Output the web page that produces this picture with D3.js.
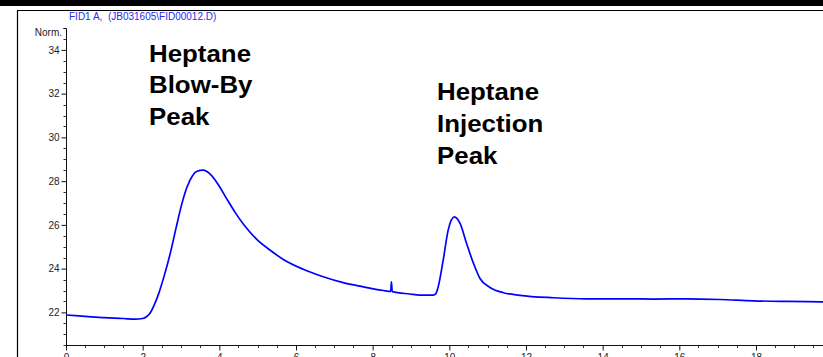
<!DOCTYPE html>
<html>
<head>
<meta charset="utf-8">
<script src="https://cdn.jsdelivr.net/npm/d3@7"></script>
<style>
html,body{margin:0;padding:0;background:#fff;overflow:hidden;}
svg{display:block;font-family:"Liberation Sans",Arial,sans-serif;}
</style>
</head>
<body>
<svg id="chart" width="823" height="357"></svg>
<script>
// Retention time (min)
const times = [0, 0.5, 1.0, 1.5, 1.8, 2.0, 2.1, 2.2, 2.3, 2.42, 2.55, 2.72, 2.87, 3.02, 3.15, 3.3, 3.42, 3.58, 3.76, 3.97, 4.19, 4.42, 4.65, 4.97, 5.32, 5.67, 6.19, 6.71, 7.23, 7.76, 8.28, 8.47, 8.49, 8.51, 8.97, 9.23, 9.58, 9.65, 9.71, 9.84, 9.97, 10.13, 10.28, 10.45, 10.63, 10.8, 11.06, 11.41, 11.84, 12.71, 13.58, 14.45, 15.32, 16.19, 17.06, 17.93, 18.8, 19.67, 20.2];
// FID signal (Norm.)
const signal = [21.88, 21.82, 21.76, 21.72, 21.69, 21.72, 21.8, 21.98, 22.33, 22.87, 23.6, 24.7, 25.85, 26.95, 27.7, 28.25, 28.45, 28.5, 28.32, 27.85, 27.2, 26.55, 25.98, 25.35, 24.85, 24.42, 23.97, 23.63, 23.36, 23.17, 23.0, 22.96, 23.4, 22.95, 22.84, 22.79, 22.79, 22.86, 23.17, 24.39, 25.76, 26.37, 26.07, 25.15, 24.24, 23.55, 23.14, 22.9, 22.78, 22.67, 22.62, 22.62, 22.61, 22.62, 22.59, 22.53, 22.5, 22.48, 22.46];
const xTicks = [0, 2, 4, 6, 8, 10, 12, 14, 16, 18, 20];
const yTicks = [22, 24, 26, 28, 30, 32, 34];
const titleText = "FID1 A,  (JB031605\\FID00012.D)";
const yUnit = "Norm.";
const note1 = ["Heptane", "Blow-By", "Peak"];
const note2 = ["Heptane", "Injection", "Peak"];

const svg = d3.select("#chart");
const x = d3.scaleLinear().domain([0, 20]).range([66, 66 + 20 * 38.333]);
const y = d3.scaleLinear().domain([20.5, 35]).range([345.2, 28.0]);

// top black band and frame
svg.append("rect").attr("x", 0).attr("y", 0).attr("width", 823).attr("height", 6).attr("fill", "#000");
svg.append("line").attr("x1", 17).attr("x2", 823).attr("y1", 10.5).attr("y2", 10.5).attr("stroke", "#000").attr("stroke-width", 1.2);
svg.append("line").attr("x1", 17.5).attr("x2", 17.5).attr("y1", 10).attr("y2", 357).attr("stroke", "#000").attr("stroke-width", 1.2);

// title
svg.append("text").attr("x", 69).attr("y", 19.5).attr("font-size", 10).attr("fill", "#2a2aee")
  .style("white-space", "pre").attr("xml:space", "preserve").text(titleText);

// minor ticks
const yMinor = d3.range(20.5, 35.01, 0.5).filter(v => !yTicks.includes(v));
svg.append("g").selectAll("line").data(yMinor).join("line")
  .attr("x1", 63.5).attr("x2", 66).attr("y1", d => Math.round(y(d)) + 0.5).attr("y2", d => Math.round(y(d)) + 0.5)
  .attr("stroke", "#333").attr("stroke-width", 1);
const xMinor = d3.range(0, 20.01, 0.5).filter(v => !xTicks.includes(v));
svg.append("g").selectAll("line").data(xMinor).join("line")
  .attr("x1", d => Math.round(x(d)) + 0.5).attr("x2", d => Math.round(x(d)) + 0.5).attr("y1", 345).attr("y2", 348)
  .attr("stroke", "#333").attr("stroke-width", 1);

// y axis
const yAxis = d3.axisLeft(y).tickValues(yTicks).tickSize(5).tickPadding(2).tickFormat(d3.format("d"));
const gy = svg.append("g").attr("transform", "translate(66.5,0)").call(yAxis);
gy.select(".domain").attr("d", "M-3,28.5H0V345.5").attr("stroke", "#111");
gy.selectAll(".tick line").attr("stroke", "#111");
gy.selectAll(".tick text").attr("font-size", 10).attr("fill", "#222").attr("font-family", "Liberation Sans, Arial, sans-serif");

svg.append("text").attr("x", 62).attr("y", 36).attr("text-anchor", "end").attr("font-size", 10).attr("fill", "#222").text(yUnit);

// x axis (labels are cut by the bottom edge, as in the reference)
const xAxis = d3.axisBottom(x).tickValues(xTicks).tickSize(5).tickPadding(3).tickFormat(d3.format("d"));
const gx = svg.append("g").attr("transform", "translate(0,345.5)").call(xAxis);
gx.select(".domain").attr("d", "M66,0H900").attr("stroke", "#111");
gx.selectAll(".tick line").attr("stroke", "#111");
gx.selectAll(".tick text").attr("font-size", 10).attr("fill", "#222").attr("font-family", "Liberation Sans, Arial, sans-serif");

// trace
const line = d3.line().x((d, i) => x(times[i])).y(d => y(d)).curve(d3.curveMonotoneX);
svg.append("path").datum(signal).attr("d", line).attr("fill", "none").attr("stroke", "#0000ff").attr("stroke-width", 1.7);

// annotations
function note(lines, px, py) {
  const g = svg.append("g").attr("transform", `translate(${px},${py}) scale(1.125,1)`);
  g.selectAll("text").data(lines).join("text")
    .attr("x", 0).attr("y", (d, i) => i * 32)
    .attr("font-size", 23).attr("font-weight", "bold").attr("fill", "#000").text(d => d);
}
note(note1, 149, 61.5);
note(note2, 437, 100);
</script>
</body>
</html>
